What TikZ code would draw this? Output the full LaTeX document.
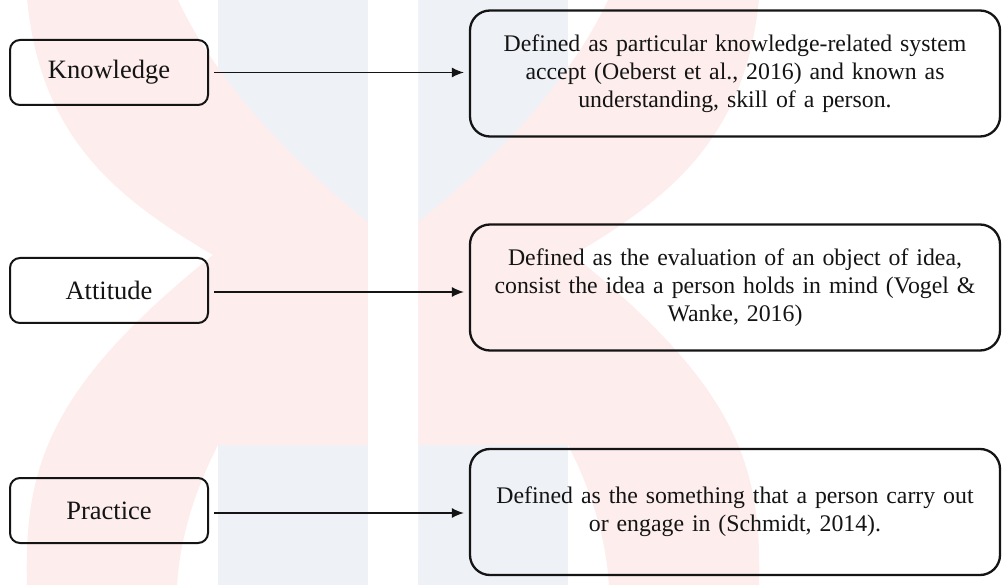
\documentclass[tikz,border=0pt]{standalone}
\usepackage{fontspec}
\setmainfont{Liberation Serif}
\usetikzlibrary{arrows.meta}

\definecolor{wmpink}{RGB}{253,237,237}
\definecolor{wmblue}{RGB}{238,242,247}
\definecolor{ink}{RGB}{20,20,20}

% one half of the faint background emblem
\newcommand{\emblemhalf}{%
  (27,-2) -- (177,-2)
  .. controls (215,80) and (290,160) .. (368,222)
  -- (394,222) -- (394,445) -- (218,445)
  .. controls (200,480) and (180,530) .. (177,587)
  -- (27,587)
  .. controls (24,470) and (45,390) .. (213,255)
  .. controls (120,200) and (40,140) .. (27,-2) -- cycle}

\begin{document}
\begin{tikzpicture}[x=1pt,y=-1pt,
  term/.style={draw=ink, line width=2pt, rounded corners=10pt,
    minimum width=198pt, minimum height=65pt, inner sep=0pt,
    font=\fontsize{26.5}{28}\selectfont, text=ink},
  defn/.style={draw=ink, line width=2.3pt, rounded corners=20pt,
    minimum width=530pt, minimum height=126pt, inner sep=0pt,
    text width=525pt, align=center,
    font=\fontsize{23.8}{28}\selectfont, text=ink},
  link/.style={draw=ink, line width=1.3pt,
    -{Latex[length=12pt,width=10pt]},
    shorten <=5pt, shorten >=5pt}
]
\useasboundingbox (0,0) rectangle (1002,585);
\fill[white] (0,0) rectangle (1002,585);

% background emblem
\fill[wmblue] (218,-2) rectangle (368,587);
\fill[wmblue] (418,-2) rectangle (568,587);
\fill[wmpink] \emblemhalf;
\begin{scope}[xshift=786pt, xscale=-1]
  \fill[wmpink] \emblemhalf;
\end{scope}
\fill[white, rounded corners=22pt] (368,-40) rectangle (418,582);

% terms
\node[term] (know) at (109,72.5)  {Knowledge};
\node[term] (att)  at (109,290.5) {Attitude};
\node[term] (prac) at (109,510.5) {Practice};

% definitions
\node[defn] (knowd) at (735,73.5) {Defined as particular knowledge-related system\\
  accept (Oeberst et al., 2016) and known as\\ understanding, skill of a person.};
\node[defn] (attd) at (735,287.5) {Defined as the evaluation of an object of idea,\\
  consist the idea a person holds in mind (Vogel \&\\ Wanke, 2016)};
\node[defn] (pracd) at (735,512) {Defined as the something that a person carry out\\
  or engage in (Schmidt, 2014).};

% connectors
\draw[link] (know.east) -- (know.east -| knowd.west);
\draw[link] ([yshift=-1.5pt]att.east) -- ([yshift=-1.5pt]att.east -| attd.west);
\draw[link] ([yshift=-2.5pt]prac.east) -- ([yshift=-2.5pt]prac.east -| pracd.west);
\end{tikzpicture}
\end{document}
